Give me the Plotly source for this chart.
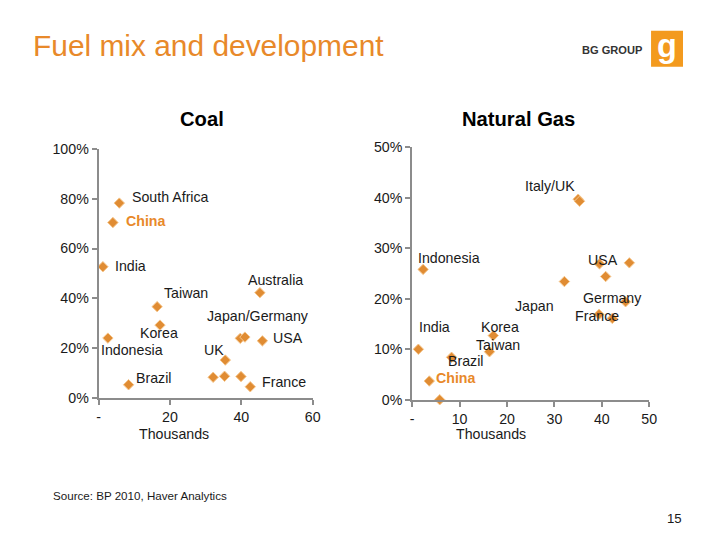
import plotly.graph_objects as go

# ---------------- data ----------------
coal_labels = ["South Africa", "China", "India", "Australia", "Taiwan", "Korea", "Indonesia",
               "Japan/Germany", "", "USA", "UK", "", "", "", "France", "Brazil"]
coal_gdp = [5.8, 4.0, 1.2, 45.2, 16.4, 17.2, 2.6, 39.7, 41.0, 45.9, 35.5, 32.1, 35.3, 39.9, 42.5, 8.4]
coal_share = [78.2, 70.4, 52.7, 42.3, 36.7, 29.3, 24.1, 24.0, 24.5, 23.0, 15.3, 8.4, 8.8, 8.7, 4.6, 5.4]

gas_labels = ["Italy/UK", "", "Indonesia", "USA", "", "", "Japan", "Germany", "France", "",
              "Korea", "India", "Taiwan", "Brazil", "China", ""]
gas_gdp = [35.0, 35.3, 2.3, 39.5, 45.8, 40.8, 32.1, 45.0, 39.4, 42.2, 17.1, 1.3, 16.3, 8.3, 3.6, 5.8]
gas_share = [39.7, 39.3, 25.8, 26.9, 27.1, 24.4, 23.4, 19.4, 16.9, 16.1, 12.7, 10.0, 9.5, 8.4, 3.7, 0.0]

coal_xticks = [0, 20, 40, 60]
coal_xticktext = ["-", "20", "40", "60"]
coal_yticks = [0, 20, 40, 60, 80, 100]
coal_yticktext = ["0%", "20%", "40%", "60%", "80%", "100%"]
gas_xticks = [0, 10, 20, 30, 40, 50]
gas_xticktext = ["-", "10", "20", "30", "40", "50"]
gas_yticks = [0, 10, 20, 30, 40, 50]
gas_yticktext = ["0%", "10%", "20%", "30%", "40%", "50%"]

# label placement (pixel offsets from the point): (xshift, yshift, xanchor)
coal_offsets = {
    "South Africa": (11, 6, "left"), "China": (11, 2, "left"), "India": (10, 1, "left"),
    "Australia": (15, 12, "center"), "Taiwan": (29, 13, "center"), "Korea": (-1, -8, "center"),
    "Indonesia": (24, -12, "center"), "Japan/Germany": (18, 22, "center"), "USA": (25, 3, "center"),
    "UK": (-11, 10, "center"), "France": (33, 5, "center"), "Brazil": (25, 7, "center"),
}
gas_offsets = {
    "Italy/UK": (-28, 13, "center"), "Indonesia": (26, 11, "center"), "USA": (3, 4, "center"),
    "Japan": (-30, -24, "center"), "Germany": (-13, 4, "center"), "France": (-2, -2, "center"),
    "Korea": (7, 8, "center"), "India": (16, 22, "center"), "Taiwan": (8, 7, "center"),
    "Brazil": (14, -4, "center"), "China": (26, 3, "center"),
}

W, H = 720, 540
ORANGE = "#E8892A"
MARK = "#E08C33"
AXIS = "#8C8C8C"
FONT = "Liberation Sans, Arial, sans-serif"
TXT = "#1a1a1a"

# the captured picture comes out slightly scaled; compensate so that targets land in place
SX, OX, SY, OY = 0.988, 0.7, 0.976, 7.0


def px(x):
    return ((x - OX) / SX) / W


def py(y):
    return 1 - ((y - OY) / SY) / H


def fs(s):
    return round(s / SX, 1)


fig = go.Figure()
marker = dict(symbol="diamond", size=8, color=MARK, line=dict(color="#F6C68C", width=1))
fig.add_trace(go.Scatter(x=coal_gdp, y=coal_share, mode="markers", marker=marker,
                         xaxis="x", yaxis="y", cliponaxis=False, showlegend=False,
                         hoverinfo="skip"))
fig.add_trace(go.Scatter(x=gas_gdp, y=gas_share, mode="markers", marker=marker,
                         xaxis="x2", yaxis="y2", cliponaxis=False, showlegend=False,
                         hoverinfo="skip"))

annotations = []


def add_labels(labels, xs, ys, offsets, xr, yr):
    for lab, x, y in zip(labels, xs, ys):
        if not lab:
            continue
        dx, dy, anc = offsets[lab]
        china = lab == "China"
        annotations.append(dict(
            x=x, y=y, xref=xr, yref=yr, text=f"<b>{lab}</b>" if china else lab,
            showarrow=False, xshift=dx / SX, yshift=dy / SY, xanchor=anc, yanchor="middle",
            font=dict(family=FONT, size=fs(14), color=ORANGE if china else TXT)))


add_labels(coal_labels, coal_gdp, coal_share, coal_offsets, "x", "y")
add_labels(gas_labels, gas_gdp, gas_share, gas_offsets, "x2", "y2")


def note(text, x, y, size, color=TXT, anchor="center"):
    annotations.append(dict(x=px(x), y=py(y), xref="paper", yref="paper", xanchor=anchor,
                            yanchor="middle", text=text, showarrow=False,
                            font=dict(family=FONT, size=fs(size), color=color)))


note("Fuel mix and development", 30, 45, 29.5, ORANGE, "left")
note("<b>Coal</b>", 201, 119, 20, "#000")
note("<b>Natural Gas</b>", 518, 119, 20, "#000")
note("Thousands", 173, 435, 14)
note("Thousands", 491, 435, 14)
note("Source: BP 2010, Haver Analytics", 50, 497, 11.5, TXT, "left")
note("15", 684, 520, 13, TXT, "right")
note("<b>BG GROUP</b>", 645, 49, 11, "#333", "right")
note("<b>g</b>", 667, 45, 32, "white")

shapes = [dict(type="rect", xref="paper", yref="paper", x0=px(651), x1=px(683), y0=py(66), y1=py(30),
               fillcolor="#F39A1E", line=dict(width=0), layer="below")]

common = dict(showgrid=False, zeroline=False, showline=True, linecolor=AXIS, linewidth=2,
              ticks="outside", ticklen=5, tickwidth=1.5, tickcolor=AXIS, tickmode="array",
              tickfont=dict(family=FONT, size=fs(14), color=TXT))

fig.update_layout(
    width=W, height=H, autosize=False, margin=dict(l=0, r=0, t=0, b=0),
    paper_bgcolor="white", plot_bgcolor="white", hovermode=False,
    xaxis=dict(domain=[px(97.5), px(312)], range=[0, 60], tickvals=coal_xticks,
               ticktext=coal_xticktext, anchor="y", **common),
    yaxis=dict(domain=[py(399.5), py(148.5)], range=[0, 100], tickvals=coal_yticks,
               ticktext=coal_yticktext, anchor="x", **common),
    xaxis2=dict(domain=[px(411.7), px(649.2)], range=[0, 50], tickvals=gas_xticks,
                ticktext=gas_xticktext, anchor="y2", **common),
    yaxis2=dict(domain=[py(401), py(147)], range=[0, 50], tickvals=gas_yticks,
                ticktext=gas_yticktext, anchor="x2", **common),
    annotations=annotations, shapes=shapes,
)

fig.write_html("out.html", config={"responsive": False, "displayModeBar": False},
               post_script="document.body.style.margin='0';document.body.style.overflow='hidden';")
